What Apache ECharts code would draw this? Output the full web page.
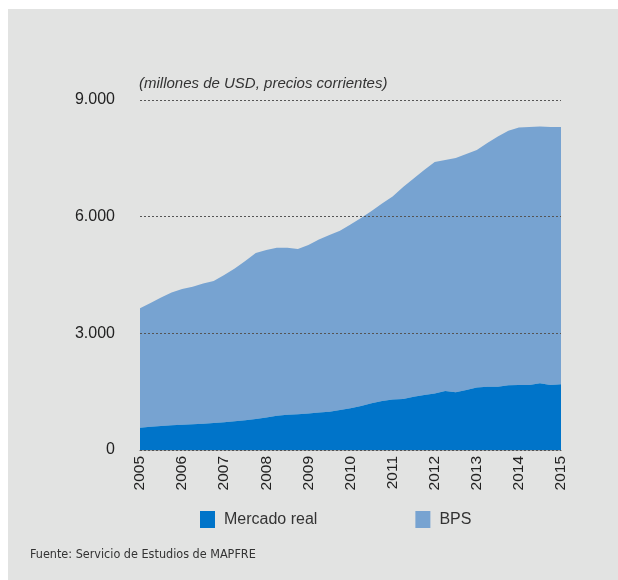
<!DOCTYPE html>
<html>
<head>
<meta charset="utf-8">
<script src="https://cdn.jsdelivr.net/npm/echarts@6/dist/echarts.min.js"></script>
<style>
html,body{margin:0;padding:0;background:#ffffff;}
#chart{width:618px;height:580px;}
</style>
</head>
<body>
<div id="chart"></div>
<script>
// Quarterly categories 2005 - 2015
const years = ['2005','2006','2007','2008','2009','2010','2011','2012','2013','2014','2015'];
const quarters = [];
years.forEach(function (y, k) {
  if (k < years.length - 1) {
    quarters.push(y, y + ' T2', y + ' T3', y + ' T4');
  } else {
    quarters.push(y);
  }
});

// millones de USD
const mercadoReal = [573, 597, 617, 635, 648, 661, 674, 694, 712, 738, 764, 797, 836, 882, 905, 920,
  938, 964, 985, 1028, 1072, 1131, 1200, 1260, 1298, 1311, 1370, 1414, 1453, 1517, 1483, 1543,
  1607, 1628, 1628, 1666, 1671, 1671, 1715, 1671, 1689];
const bps = [3070, 3183, 3303, 3415, 3492, 3539, 3606, 3651, 3788, 3929, 4096, 4268, 4307, 4318, 4295, 4250,
  4332, 4446, 4545, 4612, 4728, 4834, 4945, 5080, 5222, 5449, 5610, 5786, 5952, 5940, 6027, 6067,
  6107, 6267, 6432, 6544, 6619, 6634, 6605, 6634, 6616];

const yTicks = [0, 3000, 6000, 9000];
const seriesNames = ['Mercado real', 'BPS'];
const colors = ['#0074C9', '#77A3D1'];

const chart = echarts.init(document.getElementById('chart'), null, {renderer: 'canvas'});
chart.setOption({
  backgroundColor: '#ffffff',
  animation: false,
  graphic: [{
    type: 'rect', z: -10, silent: true,
    shape: {x: 8, y: 9, width: 610, height: 571},
    style: {fill: '#E2E3E2'}
  }, {
    type: 'text', left: 139, top: 76,
    style: {text: '(millones de USD, precios corrientes)', font: 'italic 15px "Liberation Sans"', fill: '#333333'}
  }, {
    type: 'text', left: 30, top: 548,
    style: {text: 'Fuente: Servicio de Estudios de MAPFRE', font: '12.5px "DejaVu Sans Condensed"', fill: '#333333'}
  }],
  color: colors,
  legend: {
    data: seriesNames,
    bottom: 47,
    left: 195,
    itemGap: 98,
    itemWidth: 15,
    itemHeight: 17,
    icon: 'rect',
    textStyle: {fontFamily: 'Liberation Sans', fontSize: 16, color: '#333333', padding: [0, 0, 0, 4]}
  },
  grid: {left: 140, right: 57, top: 100, bottom: 130, containLabel: false},
  xAxis: {
    type: 'category',
    data: quarters,
    boundaryGap: false,
    z: 10,
    axisLine: {show: true, lineStyle: {color: '#555555', type: [2, 2], width: 1}},
    axisTick: {show: false},
    splitLine: {show: false},
    axisLabel: {
      rotate: 90,
      interval: function (i) { return i % 4 === 0; },
      formatter: function (v) { return v.substring(0, 4); },
      fontFamily: 'Liberation Sans', fontSize: 15.5, color: '#222222', margin: 6
    }
  },
  yAxis: {
    type: 'value',
    min: yTicks[0],
    max: yTicks[yTicks.length - 1],
    interval: 3000,
    z: 10,
    axisLine: {show: false},
    axisTick: {show: false},
    splitLine: {show: true, lineStyle: {color: '#555555', type: [2, 2], width: 1}},
    axisLabel: {
      formatter: function (v) { return v === 0 ? '0' : (v / 1000).toFixed(0) + '.000'; },
      fontFamily: 'Liberation Sans', fontSize: 16, color: '#222222', margin: 25
    }
  },
  series: [{
    name: seriesNames[0], type: 'line', stack: 'total', data: mercadoReal,
    symbol: 'none', lineStyle: {width: 0}, areaStyle: {color: colors[0], opacity: 1}, z: 3
  }, {
    name: seriesNames[1], type: 'line', stack: 'total', data: bps,
    symbol: 'none', lineStyle: {width: 0}, areaStyle: {color: colors[1], opacity: 1}, z: 2
  }]
});
</script>
</body>
</html>
